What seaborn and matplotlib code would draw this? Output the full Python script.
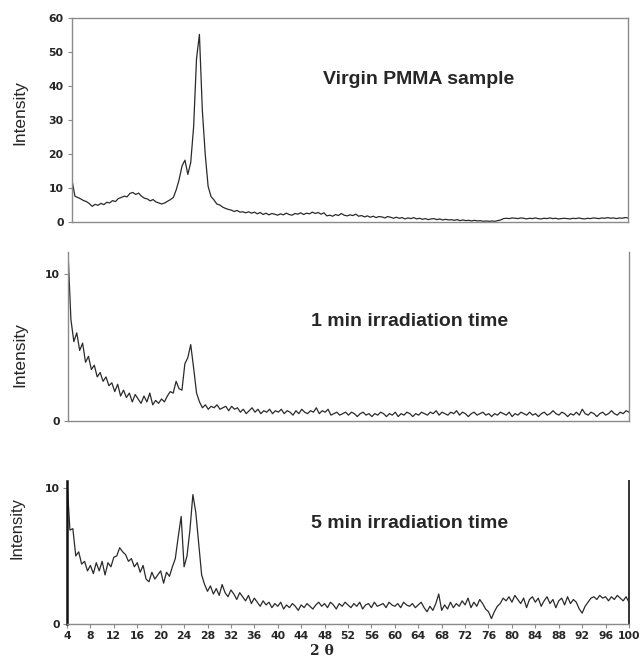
import numpy as np
import pandas as pd
import matplotlib
matplotlib.use("Agg")
import matplotlib.pyplot as plt
import seaborn as sns

# 2-theta sampling grid (degrees), 0.5 deg step
two_theta = np.arange(4.0, 100.25, 0.5)

virgin = [
    12.3, 7.6, 7.2, 6.8, 6.3, 6.0, 5.4, 4.6, 5.2, 4.9, 5.5, 5.1,
    5.8, 5.6, 6.3, 6.0, 6.9, 7.2, 7.6, 7.4, 8.4, 8.7, 8.1, 8.5,
    7.6, 7.0, 6.8, 6.2, 6.6, 5.9, 5.6, 5.3, 5.6, 6.1, 6.6, 7.2,
    9.5, 12.5, 16.5, 18.2, 14.0, 17.5, 28.0, 48.0, 55.2, 33.0, 20.0, 10.5,
    7.5, 6.5, 5.3, 5.0, 4.4, 4.0, 3.7, 3.5, 3.1, 3.4, 2.9, 3.0,
    2.7, 3.0, 2.6, 2.9, 2.4, 2.8, 2.2, 2.6, 2.1, 2.5, 2.3, 2.0,
    2.4, 2.1, 2.6, 2.2, 2.0, 2.5, 2.3, 2.7, 2.2, 2.6, 2.4, 2.9,
    2.5, 2.8, 2.3, 2.7, 1.8, 2.0, 1.7, 2.2, 1.9, 2.5, 2.0, 1.8,
    2.1, 1.9, 2.3, 1.7, 1.9, 1.5, 1.8, 1.4, 1.7, 1.3, 1.6, 1.5,
    1.2, 1.6, 1.4, 1.1, 1.4, 1.1, 1.3, 0.9, 1.2, 1.0, 1.3, 0.9,
    1.1, 0.8, 1.0, 0.7, 0.9, 1.0, 0.7, 0.9, 0.6, 0.8, 0.6, 0.7,
    0.5, 0.7, 0.4, 0.6, 0.4, 0.5, 0.3, 0.5, 0.3, 0.4, 0.2, 0.3,
    0.2, 0.3, 0.2, 0.4, 0.6, 1.0, 1.1, 1.0, 1.2, 1.1, 1.0, 1.2,
    1.1, 0.9, 1.1, 1.0, 1.2, 1.0, 0.9, 1.1, 1.0, 1.2, 1.0, 1.1,
    0.9, 1.0, 1.1, 1.0, 0.9, 1.1, 1.0, 1.2, 1.0, 0.9, 1.1, 1.0,
    1.2, 1.1, 1.0, 1.2, 1.1, 1.3, 1.1, 1.2, 1.0, 1.2, 1.1, 1.3,
    1.2,
]

irr_1min = [
    11.5, 6.9, 5.4, 6.0, 4.8, 5.3, 4.0, 4.4, 3.5, 3.8, 3.0, 3.3,
    2.7, 3.0, 2.4, 2.6, 2.0, 2.5, 1.7, 2.1, 1.6, 1.9, 1.3, 1.8,
    1.5, 1.2, 1.7, 1.3, 1.9, 1.1, 1.4, 1.2, 1.5, 1.3, 1.7, 2.0,
    1.9, 2.7, 2.2, 2.1, 3.9, 4.3, 5.2, 3.6, 1.9, 1.3, 0.9, 1.1,
    0.8, 1.0, 0.9, 1.1, 0.8, 0.9, 1.0, 0.7, 1.0, 0.8, 0.9, 0.6,
    0.8, 0.5, 0.7, 0.9, 0.6, 0.8, 0.5, 0.7, 0.6, 0.8, 0.5, 0.7,
    0.6, 0.8, 0.5, 0.7, 0.6, 0.4, 0.7, 0.5, 0.8, 0.6, 0.5, 0.7,
    0.6, 0.9, 0.5, 0.7, 0.6, 0.8, 0.4, 0.5, 0.6, 0.4, 0.5, 0.6,
    0.4, 0.6, 0.5, 0.3, 0.5, 0.6, 0.4, 0.5, 0.3, 0.5, 0.4, 0.6,
    0.5, 0.3, 0.5, 0.4, 0.6, 0.3, 0.5, 0.4, 0.6, 0.5, 0.3, 0.5,
    0.4, 0.6, 0.5, 0.4, 0.6, 0.5, 0.7, 0.4, 0.6, 0.5, 0.4, 0.6,
    0.5, 0.7, 0.4, 0.6, 0.5, 0.3, 0.5, 0.6, 0.4, 0.5, 0.6, 0.4,
    0.5, 0.3, 0.5, 0.4, 0.6, 0.5, 0.4, 0.6, 0.3, 0.5, 0.4, 0.6,
    0.5, 0.4, 0.6, 0.4, 0.5, 0.3, 0.5, 0.6, 0.4, 0.5, 0.7, 0.5,
    0.4, 0.6, 0.5, 0.3, 0.5, 0.4, 0.6, 0.4, 0.8, 0.5, 0.4, 0.6,
    0.5, 0.3, 0.5, 0.6, 0.4, 0.5, 0.7, 0.5, 0.4, 0.6, 0.5, 0.7,
    0.6,
]

irr_5min = [
    10.5, 6.9, 7.0, 5.0, 5.3, 4.4, 4.6, 3.9, 4.3, 3.7, 4.5, 3.9,
    4.6, 3.6, 4.5, 4.2, 4.9, 5.0, 5.6, 5.3, 5.1, 4.6, 4.8, 4.2,
    4.5, 3.8, 4.3, 3.3, 3.1, 3.8, 3.3, 3.6, 3.9, 3.0, 3.8, 3.5,
    4.2, 4.8, 6.4, 7.9, 4.2, 5.0, 6.9, 9.5, 8.2, 5.9, 3.6, 2.9,
    2.4, 2.8, 2.2, 2.6, 2.1, 2.9, 2.3, 2.0, 2.5, 2.2, 1.8, 2.3,
    2.0, 1.7, 2.1, 1.5, 1.9, 1.6, 1.3, 1.7, 1.4, 1.6, 1.2, 1.5,
    1.3, 1.6, 1.1, 1.4, 1.2, 1.5, 1.3, 1.0, 1.4, 1.2, 1.5, 1.3,
    1.1, 1.4, 1.6, 1.3, 1.5, 1.2, 1.6, 1.4, 1.1, 1.5, 1.3, 1.6,
    1.4, 1.2, 1.5, 1.3, 1.6, 1.1, 1.4, 1.5, 1.2, 1.6, 1.3, 1.4,
    1.5, 1.2, 1.6, 1.4, 1.3, 1.5, 1.2, 1.6, 1.4, 1.3, 1.5, 1.2,
    1.4, 1.6, 1.2, 0.9, 1.3, 1.0, 1.5, 2.2, 1.0, 1.4, 1.1, 1.6,
    1.2, 1.5, 1.3, 1.7, 1.4, 1.9, 1.2, 1.6, 1.3, 1.8, 1.5, 1.1,
    0.9, 0.4, 0.9, 1.3, 1.5, 1.9, 1.7, 2.0, 1.6, 2.1, 1.8, 1.5,
    1.9, 1.2, 1.8, 2.0, 1.6, 1.9, 1.3, 1.7, 2.0, 1.5, 1.8, 1.2,
    1.7, 1.9, 1.4, 2.0, 1.5, 1.8, 1.6, 1.1, 0.8, 1.3, 1.6, 1.9,
    2.0, 1.8, 2.1, 1.9, 2.0, 1.7, 2.0, 1.8, 2.1, 1.9, 1.7, 2.0,
    1.6,
]

panel_labels = ["Virgin PMMA sample", "1 min irradiation time", "5 min irradiation time"]
x_ticks = list(range(4, 101, 4))
y_ticks_top = [0, 10, 20, 30, 40, 50, 60]
y_ticks_low = [0, 10]

assert len(virgin) == len(two_theta) == len(irr_1min) == len(irr_5min)

sns.set_style("ticks")
plt.rcParams["font.family"] = ["DejaVu Sans"]

fig = plt.figure(figsize=(6.42, 6.60), dpi=100)

# axes rectangles in figure fractions
ax1 = fig.add_axes([72 / 642, 1 - 222 / 660, 556 / 642, 204 / 660])
ax2 = fig.add_axes([68 / 642, 1 - 421 / 660, 561 / 642, 169 / 660])
ax3 = fig.add_axes([67 / 642, 1 - 624 / 660, 562 / 642, 143 / 660])

line_color = "#2a2a2a"
spine_grey = "#8a8a8a"

df = pd.DataFrame({"two_theta": two_theta, "virgin": virgin,
                   "irr_1min": irr_1min, "irr_5min": irr_5min})

for ax, col in zip([ax1, ax2, ax3], ["virgin", "irr_1min", "irr_5min"]):
    sns.lineplot(data=df, x="two_theta", y=col, ax=ax, color=line_color,
                 linewidth=0.9)
    ax.set_xlim(4, 100)
    ax.set_xlabel("")
    ax.set_ylabel("")

# panel 1
ax1.set_ylim(0, 60)
ax1.set_yticks(y_ticks_top)
ax1.set_xticks([])
for s in ["left", "right", "top", "bottom"]:
    ax1.spines[s].set_visible(True)
    ax1.spines[s].set_color(spine_grey)
    ax1.spines[s].set_linewidth(1.0)
ax1.tick_params(axis="y", length=3, width=0.8, color=spine_grey, pad=3)

# panel 2
ax2.set_ylim(0, 11.5)
ax2.set_yticks(y_ticks_low)
ax2.set_xticks([])
ax2.spines["top"].set_visible(False)
for s in ["left", "right", "bottom"]:
    ax2.spines[s].set_color(spine_grey)
    ax2.spines[s].set_linewidth(1.0)
ax2.spines["right"].set_visible(True)
ax2.tick_params(axis="y", length=3, width=0.8, color=spine_grey, pad=3)

# panel 3
ax3.set_ylim(0, 10.5)
ax3.set_yticks(y_ticks_low)
ax3.set_xticks(x_ticks)
ax3.spines["top"].set_visible(False)
ax3.spines["right"].set_visible(True)
ax3.spines["left"].set_color("#111111")
ax3.spines["left"].set_linewidth(1.8)
ax3.spines["right"].set_color("#333333")
ax3.spines["right"].set_linewidth(1.4)
ax3.spines["bottom"].set_color(spine_grey)
ax3.spines["bottom"].set_linewidth(1.0)
ax3.tick_params(axis="both", length=3, width=0.8, color=spine_grey, pad=2)

for ax in [ax1, ax2, ax3]:
    for lab in ax.get_yticklabels() + ax.get_xticklabels():
        lab.set_fontsize(7.8)
        lab.set_fontweight("bold")

# "Intensity" labels
narrow = ["Liberation Sans Narrow", "Liberation Sans", "DejaVu Sans"]
fig.text(20 / 642, 1 - 113 / 660, "Intensity", rotation=90, ha="center",
         va="center", fontsize=12.5, family=narrow)
fig.text(20 / 642, 1 - 355 / 660, "Intensity", rotation=90, ha="center",
         va="center", fontsize=12.5, family=narrow)
fig.text(17 / 642, 1 - 528 / 660, "Intensity", rotation=90, ha="center",
         va="center", fontsize=12, family=narrow)

# panel annotations
ann_font = ["Liberation Sans", "DejaVu Sans"]
fig.text(323 / 642, 1 - 80 / 660, panel_labels[0], ha="left", va="center",
         fontsize=14, fontweight="bold", family=ann_font)
fig.text(311 / 642, 1 - 322 / 660, panel_labels[1], ha="left", va="center",
         fontsize=14, fontweight="bold", family=ann_font)
fig.text(311 / 642, 1 - 523 / 660, panel_labels[2], ha="left", va="center",
         fontsize=14, fontweight="bold", family=ann_font)

# x label
fig.text(322 / 642, 1 - 651 / 660, "2 θ", ha="center", va="center",
         fontsize=10, fontweight="bold", family=["DejaVu Serif", "DejaVu Sans"])

fig.savefig("out.png", dpi=100)
